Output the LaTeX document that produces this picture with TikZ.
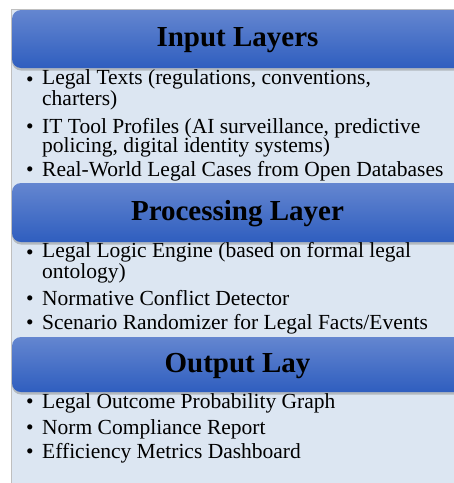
\documentclass[tikz,border=0pt]{standalone}
\usepackage{fontspec}
\setmainfont{Liberation Serif}
\usetikzlibrary{shadows}

\definecolor{panelblue}{HTML}{DCE6F2}
\definecolor{headtop}{HTML}{6486D0}
\definecolor{headbottom}{HTML}{2F5EBF}

\tikzstyle{panel} = [fill=panelblue,draw=black!25,line width=0.5pt]
\tikzstyle{header} = [shape=rectangle,rounded corners=9pt,top color=headtop,bottom color=headbottom,
  minimum width=451pt,text height=20pt,text depth=5pt,font=\fontsize{29}{31}\selectfont\bfseries,
  drop shadow={shadow xshift=0pt,shadow yshift=-2.5pt,opacity=0.45}]
\tikzstyle{itemtext} = [anchor=base west,align=left,inner sep=0pt,font=\fontsize{21.5}{19.5}\selectfont]
\tikzstyle{bullet} = [anchor=base west,inner sep=0pt,font=\fontsize{21.5}{19.5}\selectfont]

\begin{document}
\begin{tikzpicture}[x=1pt,y=1pt]
      \useasboundingbox (0,0) rectangle (454,-483);
      \clip (0,0) rectangle (454,-483);
      \path[panel] (11,-9) rectangle (470,-500);

      %% layer headers
      \foreach \nodename/\y/\h/\title in {input/39/58/Input Layers,
        process/212.5/59/Processing Layer, output/364.5/55/Output Lay}
      {
        \node (\nodename) at (237.5,-\y) [header,minimum height=\h pt] {\title};
      }

      %% bullet items (\ty = baseline of the last line)
      \foreach \nodename/\y/\ty/\itemtext in {
        texts/86/105.5/{Legal Texts (regulations, conventions,\\charters)},
        tools/133/152.5/{IT Tool Profiles (AI surveillance, predictive\\policing, digital identity systems)},
        cases/176/176/{Real-World Legal Cases from Open Databases},
        engine/259/278.5/{Legal Logic Engine (based on formal legal\\ontology)},
        conflict/305/305/{Normative Conflict Detector},
        scenario/329/329/{Scenario Randomizer for Legal Facts/Events},
        graph/408/408/{Legal Outcome Probability Graph},
        report/434/434/{Norm Compliance Report},
        dashboard/458/458/{Efficiency Metrics Dashboard}}
      {
        \node (b\nodename) at (26,-\y) [bullet] {\textbullet};
        \node (\nodename) at (42,-\ty) [itemtext] {\itemtext};
      }
\end{tikzpicture}
\end{document}
